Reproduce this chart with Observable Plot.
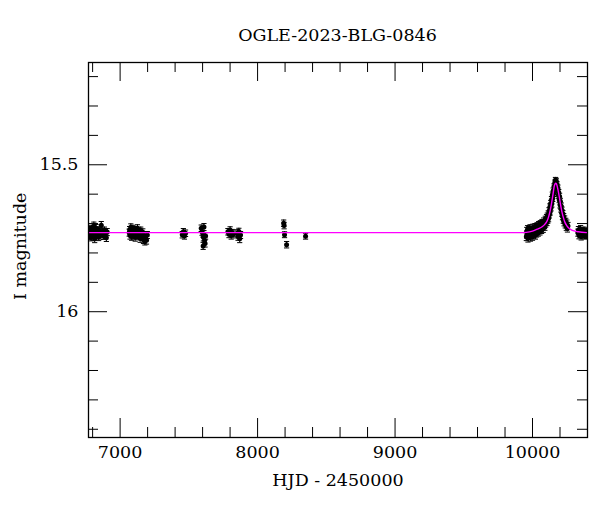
<!DOCTYPE html>
<html>
<head>
<meta charset="utf-8">
<script src="https://cdn.jsdelivr.net/npm/d3@7"></script>
<script src="https://cdn.jsdelivr.net/npm/@observablehq/plot@0.6"></script>
<style>
  body { margin: 0; background: white; }
  #title { height: 50px; box-sizing: border-box; padding: 24px 13px 0 88px; line-height: 22px;
           text-align: center; font-family: "DejaVu Serif", serif; font-size: 17.5px; color: black; }
</style>
</head>
<body>
<div id="title">OGLE-2023-BLG-0846</div>
<div id="chart"></div>
<script>
// Observations: [HJD-2450000, I mag, error]
const season2014 = [
  [6776,15.728,0.013],[6779,15.741,0.013],[6782,15.722,0.012],[6785,15.735,0.012],[6788,15.746,0.013],
  [6791,15.718,0.012],[6794,15.732,0.012],[6797,15.739,0.013],[6800,15.725,0.012],[6803,15.744,0.013],
  [6806,15.730,0.012],[6809,15.708,0.013],[6812,15.737,0.012],[6815,15.752,0.013],[6818,15.727,0.012],
  [6822,15.734,0.012],[6825,15.716,0.013],[6828,15.741,0.012],[6832,15.729,0.012],[6836,15.738,0.012],
  [6840,15.723,0.012],[6844,15.745,0.013],[6848,15.731,0.012],[6853,15.726,0.012],[6858,15.740,0.013],
  [6863,15.706,0.013],[6868,15.735,0.012],[6874,15.728,0.012],[6880,15.742,0.012],[6886,15.724,0.012],
  [6893,15.733,0.012],[6900,15.748,0.013],[6906,15.729,0.012]
];
const season2015 = [
  [7066,15.731,0.012],[7069,15.722,0.012],[7072,15.740,0.013],[7075,15.728,0.012],[7078,15.713,0.012],
  [7081,15.736,0.012],[7084,15.744,0.013],[7087,15.725,0.012],[7090,15.733,0.012],[7093,15.718,0.012],
  [7096,15.741,0.012],[7099,15.729,0.012],[7102,15.737,0.012],[7106,15.722,0.012],[7110,15.747,0.013],
  [7114,15.731,0.012],[7118,15.726,0.012],[7122,15.739,0.012],[7126,15.716,0.012],[7130,15.734,0.012],
  [7134,15.743,0.012],[7138,15.728,0.012],[7142,15.736,0.012],[7146,15.751,0.013],[7150,15.724,0.012],
  [7155,15.738,0.012],[7160,15.745,0.013],[7165,15.730,0.012],[7170,15.755,0.013],[7175,15.741,0.012],
  [7180,15.760,0.013],[7186,15.748,0.012],[7192,15.757,0.013],[7198,15.739,0.012]
];
const season2016 = [
  [7452,15.738,0.011],[7460,15.728,0.011],[7468,15.742,0.011],[7476,15.733,0.011],
  [7590,15.716,0.011],[7596,15.728,0.012],[7602,15.735,0.011],[7604,15.776,0.012],[7606,15.747,0.012],
  [7610,15.712,0.012],[7614,15.758,0.012],[7618,15.768,0.012],[7622,15.742,0.011]
];
const season2017 = [
  [7784,15.728,0.011],[7792,15.736,0.012],[7800,15.722,0.011],[7808,15.741,0.012],[7816,15.731,0.011],
  [7824,15.737,0.012],[7852,15.733,0.012],[7858,15.745,0.012],[7864,15.727,0.011],[7870,15.752,0.013],
  [7876,15.739,0.012]
];
const season2018 = [
  [8190,15.699,0.011],[8193,15.707,0.011],[8196,15.738,0.010],[8211,15.772,0.011],[8349,15.743,0.010]
];
const season2023 = [
  [9955,15.745,0.013],[9958,15.726,0.013],[9961,15.738,0.013],[9964,15.719,0.012],[9967,15.750,0.013],
  [9970,15.731,0.013],[9973,15.722,0.012],[9976,15.741,0.013],[9979,15.735,0.013],[9982,15.716,0.012],
  [9985,15.747,0.013],[9988,15.728,0.012],[9991,15.738,0.013],[9994,15.721,0.012],[9997,15.733,0.012],
  [10000,15.744,0.013],[10003,15.714,0.012],[10006,15.729,0.012],[10009,15.737,0.013],[10012,15.720,0.012],
  [10015,15.731,0.012],[10018,15.712,0.012],[10021,15.740,0.013],[10024,15.723,0.012],[10027,15.715,0.012],
  [10030,15.734,0.012],[10033,15.709,0.012],[10036,15.726,0.012],[10039,15.718,0.012],[10042,15.731,0.012],
  [10045,15.705,0.012],[10048,15.720,0.012],[10051,15.713,0.012],[10054,15.727,0.012],[10057,15.702,0.012],
  [10060,15.716,0.012],[10063,15.708,0.012],[10066,15.722,0.012],[10069,15.697,0.011],[10072,15.711,0.012],
  [10075,15.704,0.011],[10078,15.718,0.012],[10081,15.692,0.011],[10084,15.706,0.011],[10087,15.699,0.011],
  [10090,15.712,0.011],[10093,15.686,0.011],[10096,15.701,0.011],[10099,15.690,0.011],[10102,15.680,0.011],
  [10105,15.696,0.011],[10108,15.675,0.011],[10111,15.688,0.011],[10114,15.668,0.011],[10117,15.683,0.011],
  [10120,15.657,0.011],[10123,15.670,0.011],[10126,15.644,0.011],[10129,15.660,0.011],[10132,15.632,0.011],
  [10135,15.646,0.011],[10138,15.619,0.011],[10141,15.633,0.011],[10144,15.603,0.010],[10147,15.615,0.010],
  [10150,15.589,0.010],[10153,15.598,0.010],[10156,15.575,0.010],[10159,15.582,0.010],[10162,15.562,0.010],
  [10165,15.568,0.010],[10167,15.553,0.010],[10169,15.560,0.010],[10171,15.566,0.010],[10173,15.556,0.010],
  [10176,15.575,0.010],[10179,15.568,0.010],[10182,15.590,0.010],[10185,15.579,0.010],[10188,15.604,0.010],
  [10191,15.594,0.010],[10194,15.619,0.010],[10197,15.608,0.011],[10200,15.636,0.011],[10203,15.625,0.011],
  [10206,15.650,0.011],[10209,15.641,0.011],[10212,15.664,0.011],[10215,15.655,0.011],[10218,15.676,0.011],
  [10221,15.667,0.011],[10224,15.688,0.011],[10227,15.677,0.011],[10230,15.696,0.012],[10234,15.686,0.012],
  [10238,15.703,0.012],[10242,15.694,0.012],[10246,15.711,0.012],[10250,15.700,0.012],[10254,15.717,0.012],
  [10258,15.708,0.012]
];
const season2024 = [
  [10330,15.731,0.012],[10334,15.722,0.012],[10338,15.740,0.012],[10342,15.728,0.012],[10346,15.735,0.012],
  [10350,15.719,0.012],[10354,15.744,0.012],[10358,15.730,0.012],[10362,15.726,0.012],[10366,15.738,0.012],
  [10370,15.733,0.012],[10374,15.724,0.012],[10378,15.741,0.012],[10382,15.729,0.012],[10386,15.736,0.012],
  [10390,15.727,0.012],[10394,15.739,0.012]
];

// Model curve
const modelT   = [6770, 9900, 9955, 10000, 10040, 10070, 10092, 10105, 10116, 10128, 10140, 10150, 10159, 10164, 10169, 10174, 10178, 10184, 10194, 10203, 10214, 10224, 10236, 10249, 10265, 10285, 10310, 10333, 10400];
const modelMag = [15.731, 15.731, 15.730, 15.726, 15.718, 15.711, 15.701, 15.692, 15.679, 15.657, 15.627, 15.597, 15.571, 15.565, 15.563, 15.565, 15.570, 15.582, 15.607, 15.633, 15.660, 15.679, 15.696, 15.707, 15.716, 15.722, 15.726, 15.728, 15.731];

// Axis ticks
const xMajor = [7000, 8000, 9000, 10000];
const xMinor = [6800, 7200, 7400, 7600, 7800, 8200, 8400, 8600, 8800, 9200, 9400, 9600, 9800, 10200, 10400];
const yMajor = [15.5, 16];
const yMinor = [15.2, 15.3, 15.4, 15.6, 15.7, 15.8, 15.9, 16.1, 16.2, 16.3, 16.4];
const xDomain = [6770, 10400];
const yDomain = [15.152, 16.428];

const obs = [season2014, season2015, season2016, season2017, season2018, season2023, season2024]
  .flat().map(([t, mag, err]) => ({t, mag, err}));
const model = modelT.map((t, i) => ({t, mag: modelMag[i]}));

const W = 600, H = 462, mL = 88, mR = 13, mT = 12, mB = 75;
const pw = W - mL - mR, ph = H - mT - mB;
const bigT = 19, smallT = 10;
const cap = { draw(ctx) { ctx.moveTo(-2.6, 0); ctx.lineTo(2.6, 0); } };

const chart = Plot.plot({
  width: W, height: H,
  marginLeft: mL, marginRight: mR, marginTop: mT, marginBottom: mB,
  x: { domain: xDomain, axis: null },
  y: { domain: yDomain, reverse: true, axis: null },
  style: { fontFamily: "DejaVu Serif, serif", fontSize: "17.5px", color: "black", background: "white" },
  marks: [
    // ticks (inward, mirrored)
    Plot.tickX(xMajor, { x: d => d, insetTop: ph - bigT, stroke: "black" }),
    Plot.tickX(xMajor, { x: d => d, insetBottom: ph - bigT, stroke: "black" }),
    Plot.tickX(xMinor, { x: d => d, insetTop: ph - smallT, stroke: "black" }),
    Plot.tickX(xMinor, { x: d => d, insetBottom: ph - smallT, stroke: "black" }),
    Plot.tickY(yMajor, { y: d => d, insetRight: pw - bigT, stroke: "black" }),
    Plot.tickY(yMajor, { y: d => d, insetLeft: pw - bigT, stroke: "black" }),
    Plot.tickY(yMinor, { y: d => d, insetRight: pw - smallT, stroke: "black" }),
    Plot.tickY(yMinor, { y: d => d, insetLeft: pw - smallT, stroke: "black" }),
    // tick labels
    Plot.text(xMajor, { x: d => d, frameAnchor: "bottom", dy: 20, text: d => String(d), fill: "black" }),
    Plot.text(yMajor, { y: d => d, frameAnchor: "left", dx: -10, textAnchor: "end", text: d => String(d), fill: "black" }),
    // axis labels
    Plot.text(["HJD - 2450000"], { frameAnchor: "bottom", dy: 48, fill: "black" }),
    Plot.text(["I magnitude"], { frameAnchor: "left", dx: -68, dy: 50, rotate: -90, fill: "black" }),
    // data
    Plot.ruleX(obs, { x: "t", y1: d => d.mag - d.err, y2: d => d.mag + d.err, stroke: "black", strokeWidth: 1.1, clip: true }),
    Plot.dot(obs, { x: "t", y: d => d.mag - d.err, symbol: cap, stroke: "black", strokeWidth: 1, fill: "none", r: 2, clip: true }),
    Plot.dot(obs, { x: "t", y: d => d.mag + d.err, symbol: cap, stroke: "black", strokeWidth: 1, fill: "none", r: 2, clip: true }),
    Plot.dot(obs, { x: "t", y: "mag", r: 2.5, fill: "black", stroke: "none", clip: true }),
    // model
    Plot.line(model, { x: "t", y: "mag", stroke: "#ff00ff", strokeWidth: 1.4, curve: "monotone-x", clip: true }),
    Plot.frame({ stroke: "black", strokeWidth: 1.3 })
  ]
});
document.getElementById("chart").appendChild(chart);
</script>
</body>
</html>
